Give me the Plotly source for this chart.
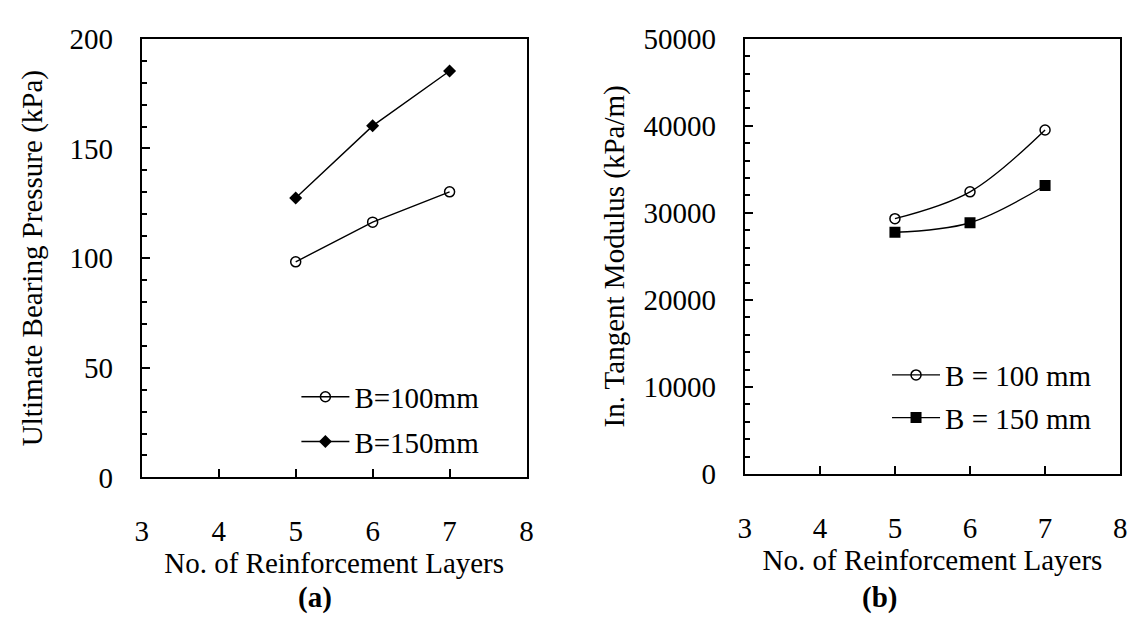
import plotly.graph_objects as go

layers = [5, 6, 7]
ubp_b100 = [98.3, 116.4, 130.2]
ubp_b150 = [127.4, 160.3, 185.3]
itm_b100 = [29340, 32420, 39530]
itm_b150 = [27770, 28870, 33150]

left_names = ["B=100mm", "B=150mm"]
right_names = ["B = 100 mm", "B = 150 mm"]
x_title = "No. of Reinforcement Layers"
y_title_a = "Ultimate Bearing Pressure (kPa)"
y_title_b = "In. Tangent Modulus (kPa/m)"
captions = ["<b>(a)</b>", "<b>(b)</b>"]

FONT = "Liberation Serif"
FS = 29
W, H = 1138, 644

def f(size=FS):
    return dict(family=FONT, size=size, color="black")

fig = go.Figure()
line = dict(color="black", width=1.4)
sline = dict(color="black", width=1.4, shape="spline", smoothing=1.0)

fig.add_trace(go.Scatter(x=layers, y=ubp_b100, name=left_names[0], mode="lines+markers",
                         line=line, marker=dict(symbol="circle-open", size=10, color="black", line=dict(width=1.5)),
                         xaxis="x", yaxis="y", legend="legend", legendgroup="a1"))
fig.add_trace(go.Scatter(x=layers, y=ubp_b150, name=left_names[1], mode="lines+markers",
                         line=line, marker=dict(symbol="diamond", size=10, color="black"),
                         xaxis="x", yaxis="y", legend="legend", legendgroup="a2"))
fig.add_trace(go.Scatter(x=layers, y=itm_b100, name=right_names[0], mode="lines+markers",
                         line=sline,
                         marker=dict(symbol="circle-open", size=10, color="black", line=dict(width=1.5)),
                         xaxis="x2", yaxis="y2", legend="legend2", legendgroup="b1"))
fig.add_trace(go.Scatter(x=layers, y=itm_b150, name=right_names[1], mode="lines+markers",
                         line=sline,
                         marker=dict(symbol="square", size=11, color="black"),
                         xaxis="x2", yaxis="y2", legend="legend2", legendgroup="b2"))

def px_x(p):
    return p / W

def px_y(p):
    return 1 - p / H

xcommon = dict(range=[3, 8], dtick=1, tick0=3, ticks="inside", ticklen=8, tickwidth=1.5,
               tickcolor="black", showline=True, linecolor="black", linewidth=2, mirror=True,
               showgrid=False, zeroline=False, ticklabelstandoff=27, tickfont=f(),
               title=dict(text=x_title, font=f(), standoff=0))
ycommon = dict(ticks="inside", ticklen=8, tickwidth=1.5, tickcolor="black", showline=True,
               linecolor="black", linewidth=2, mirror=True, showgrid=False, zeroline=False,
               ticklabelstandoff=21, tickfont=f(), tickformat="d")

fig.update_layout(
    width=W, height=H, margin=dict(l=0, r=0, t=0, b=0),
    paper_bgcolor="white", plot_bgcolor="white",
    font=f(),
    xaxis=dict(domain=[px_x(136.5), px_x(526)], anchor="y", **xcommon),
    yaxis=dict(domain=[px_y(485.5), px_y(24)], anchor="x", range=[0, 200], dtick=50,
               title=dict(text=y_title_a, font=f(), standoff=18),
               minor=dict(ticks="inside", ticklen=5, tickwidth=1.5, tickcolor="black", dtick=10),
               **ycommon),
    xaxis2=dict(domain=[px_x(747), px_x(1127)], anchor="y2", **xcommon),
    yaxis2=dict(domain=[px_y(482), px_y(24)], anchor="x2", range=[0, 50000], dtick=10000,
                title=dict(text=y_title_b, font=f(), standoff=10),
                minor=dict(ticks="inside", ticklen=5, tickwidth=1.5, tickcolor="black", dtick=2000),
                **ycommon),
    legend=dict(x=px_x(293), y=px_y(374), xanchor="left", yanchor="top", bgcolor="rgba(0,0,0,0)",
                font=f(), tracegroupgap=4, itemwidth=48),
    legend2=dict(x=px_x(891), y=px_y(351), xanchor="left", yanchor="top", bgcolor="rgba(0,0,0,0)",
                 font=f(), tracegroupgap=2, itemwidth=48),
    annotations=[
        dict(text=captions[0], x=px_x(292.5), y=px_y(631), xref="paper", yref="paper",
             showarrow=False, font=f()),
        dict(text=captions[1], x=px_x(903), y=px_y(631), xref="paper", yref="paper",
             showarrow=False, font=f()),
    ],
)

fig.write_html("out.html")
